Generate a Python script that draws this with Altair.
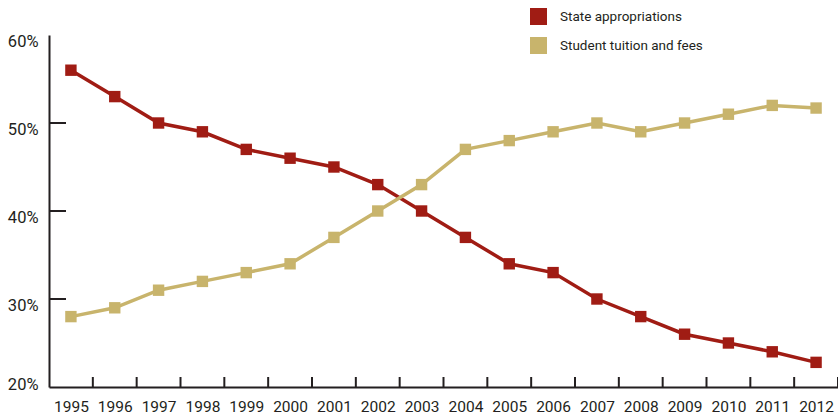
import altair as alt
import pandas as pd

years = list(range(1995, 2013))
state = [56, 53, 50, 49, 47, 46, 45, 43, 40, 37, 34, 33, 30, 28, 26, 25, 24, 22.8]
tuition = [28, 29, 31, 32, 33, 34, 37, 40, 43, 47, 48, 49, 50, 49, 50, 51, 52, 51.7]
series = ["State appropriations", "Student tuition and fees"]
colors = ["#a01c14", "#c8b46c"]
y_ticks = [20, 30, 40, 50, 60]
inner_y_ticks = [30, 40, 50]

FONT = "Liberation Sans Narrow, Arial Narrow, Roboto, sans-serif"
INK = "#231f20"

df = pd.DataFrame({
    "year": years * 2,
    "value": state + tuition,
    "series": [series[0]] * len(years) + [series[1]] * len(years),
})
xb = pd.DataFrame({"b": [y + 0.5 for y in years]})
yb = pd.DataFrame({"v": inner_y_ticks})

W, H = 789, 352
xscale = alt.Scale(domain=[1994.5, 2012.5], nice=False, zero=False)
yscale = alt.Scale(domain=[20, 60], nice=False, zero=False)
xaxis = alt.Axis(
    values=years, format="d", tickSize=0, grid=False, title=None,
    labelFont=FONT, labelFontSize=15.5, labelColor=INK, labelPadding=12,
    domainColor=INK, domainWidth=2)
yaxis = alt.Axis(
    values=y_ticks, labelExpr="datum.value + '%'", tickSize=0, grid=False, title=None,
    labelFont=FONT, labelFontSize=16.5, labelColor=INK, labelPadding=11,
    labelOffset=alt.expr("datum.value == 20 ? -3 : 6"),
    domainColor=INK, domainWidth=2)

lines = alt.Chart(df).mark_line(
    strokeWidth=3.5,
    point=alt.OverlayMarkDef(shape="square", size=130, filled=True, opacity=1),
).encode(
    x=alt.X("year:Q", scale=xscale, axis=xaxis),
    y=alt.Y("value:Q", scale=yscale, axis=yaxis),
    color=alt.Color("series:N", scale=alt.Scale(domain=series, range=colors), legend=alt.Legend(
        title=None, orient="none", legendX=481, legendY=-27, symbolType="square",
        symbolSize=289, symbolStrokeWidth=0, labelFont=FONT, labelFontSize=13.5, labelColor=INK,
        labelOffset=13, rowPadding=12, padding=0)),
    order="year:Q",
)

xticks = alt.Chart(xb).mark_rule(color=INK, strokeWidth=2).encode(
    x=alt.X("b:Q", scale=xscale, axis=xaxis),
    y=alt.value(H),
    y2=alt.value(H - 10),
)
yticks = alt.Chart(yb).mark_rule(color=INK, strokeWidth=2).encode(
    y=alt.Y("v:Q", scale=yscale, axis=yaxis),
    x=alt.value(0),
    x2=alt.value(17),
)

chart = alt.layer(lines, xticks, yticks).properties(
    width=W, height=H,
    padding={"left": 49, "top": 35, "right": 0, "bottom": 31},
    autosize=alt.AutoSizeParams(type="none"),
    background="white",
).configure_view(stroke=None)

chart.save("out.html", embed_options={"renderer": "svg", "actions": False})
